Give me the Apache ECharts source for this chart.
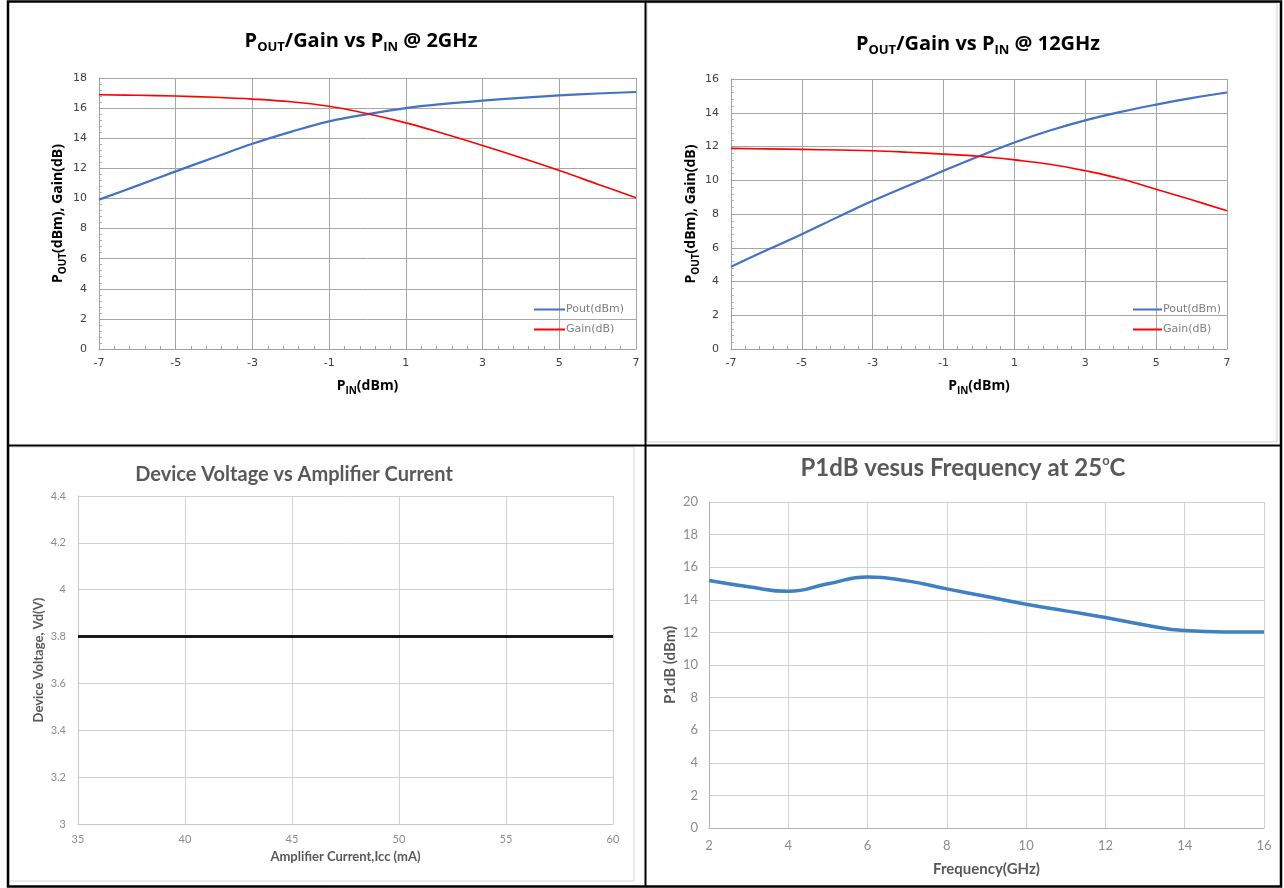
<!DOCTYPE html>
<html>
<head>
<meta charset="utf-8">
<title>Amplifier charts</title>
<script src="https://cdn.jsdelivr.net/npm/echarts@6/dist/echarts.min.js"></script>
<style>
    html, body { margin: 0; padding: 0; background: #fff; }
    #main { width: 1284px; height: 888px; }
</style>
</head>
<body>
<div id="main"></div>
<script>
// input power sweep (dBm), shared by the two top charts
var pinDbm = [-7, -6, -5, -4, -3, -2, -1, 0, 1, 2, 3, 4, 5, 6, 7];

// @ 2GHz
var pout2 = [9.92, 10.85, 11.8, 12.72, 13.63, 14.42, 15.12, 15.6, 16.0, 16.28, 16.5, 16.68, 16.84, 16.97, 17.07];
var gain2 = [16.89, 16.85, 16.8, 16.72, 16.6, 16.42, 16.12, 15.62, 15.02, 14.3, 13.52, 12.7, 11.85, 10.95, 10.05];

// @ 12GHz
var pout12 = [4.88, 5.85, 6.8, 7.8, 8.78, 9.68, 10.56, 11.42, 12.24, 12.95, 13.55, 14.05, 14.48, 14.87, 15.2];
var gain12 = [11.89, 11.86, 11.83, 11.79, 11.75, 11.66, 11.55, 11.42, 11.21, 10.95, 10.56, 10.09, 9.47, 8.84, 8.19];

// device voltage vs current
var iccMa = [35, 40, 45, 50, 55, 60];
var vdVolt = [3.8, 3.8, 3.8, 3.8, 3.8, 3.8];

// P1dB vs frequency
var freqGhz = [2, 3, 4, 5, 6, 7, 8, 9, 10, 11, 12, 13, 14, 15, 16];
var p1dB = [15.18, 14.8, 14.52, 14.98, 15.4, 15.16, 14.67, 14.2, 13.73, 13.32, 12.91, 12.46, 12.11, 12.03, 12.03];

var seriesNames = ["Pout(dBm)", "Gain(dB)"];

function pairs(xs, ys) {
    var out = [];
    for (var i = 0; i < xs.length; i++) {
        out.push([xs[i], ys[i]]);
    }
    return out;
}

var boldFont = "'Open Sans', Lato, sans-serif";
var calFont = "Lato, 'Open Sans', sans-serif";
var tickFont = "'DejaVu Sans', Verdana, sans-serif";

// subscript / superscript styles for rich text
var subRich = {
    t: { fontFamily: boldFont, fontWeight: "bold", fontSize: 20, lineHeight: 25, fill: "#000" },
    s: { fontFamily: boldFont, fontWeight: "bold", fontSize: 13, lineHeight: 13, verticalAlign: "bottom", fill: "#000" }
};
var nameRich = {
    t: { fontFamily: boldFont, fontWeight: "bold", fontSize: 14, lineHeight: 20, color: "#000" },
    s: { fontFamily: boldFont, fontWeight: "bold", fontSize: 10, lineHeight: 11, verticalAlign: "bottom", color: "#000" }
};

function topXAxis(gridIndex) {
    return {
        gridIndex: gridIndex,
        type: "value",
        min: -7,
        max: 7,
        interval: 2,
        name: "{t|P}{s|IN}{t|(dBm)}",
        nameLocation: "middle",
        nameGap: 27,
        nameTextStyle: { rich: nameRich },
        axisLine: { onZero: false, lineStyle: { color: "#a0a0a0", width: 1 } },
        axisTick: { show: true, inside: true, length: 3, lineStyle: { color: "#a0a0a0" } },
        minorTick: { show: true, splitNumber: 5, length: 3, lineStyle: { color: "#a0a0a0" } },
        axisLabel: { margin: 9, fontFamily: tickFont, fontSize: 11, color: "#404040" },
        splitLine: { show: true, lineStyle: { color: "#a6a6a6", width: 1 } }
    };
}

function topYAxis(gridIndex, max, gap) {
    return {
        gridIndex: gridIndex,
        type: "value",
        min: 0,
        max: max,
        interval: 2,
        name: "{t|P}{s|OUT}{t|(dBm), Gain(dB)}",
        nameLocation: "middle",
        nameGap: gap,
        nameTextStyle: { rich: nameRich },
        axisLine: { show: true, onZero: false, lineStyle: { color: "#a0a0a0", width: 1 } },
        axisTick: { show: true, inside: true, length: 3, lineStyle: { color: "#a0a0a0" } },
        minorTick: { show: true, splitNumber: 5, length: 3, lineStyle: { color: "#b0b0b0" } },
        axisLabel: { margin: 12, fontFamily: tickFont, fontSize: 11, color: "#404040" },
        splitLine: { show: true, lineStyle: { color: "#a6a6a6", width: 1 } }
    };
}

function topLegend(left, width) {
    return {
        orient: "vertical",
        left: left,
        top: 299,
        icon: "rect",
        itemWidth: width,
        itemHeight: 2,
        itemGap: 9,
        textStyle: { fontFamily: tickFont, fontSize: 11, color: "#7f7f7f", padding: [0, 0, 0, -4] },
        data: seriesNames
    };
}

var myChart = echarts.init(document.getElementById("main"));

var option = {
    backgroundColor: "#fff",
    animation: false,
    grid: [
        { left: 99, right: 648, top: 78, bottom: 539 },
        { left: 731, right: 57, top: 79, bottom: 539 },
        { left: 78, right: 671, top: 496, bottom: 64 },
        { left: 709, right: 20, top: 502, bottom: 60 }
    ],
    legend: [
        topLegend(529, 31),
        topLegend(1128, 29)
    ],
    xAxis: [
        topXAxis(0),
        topXAxis(1),
        {
            gridIndex: 2,
            type: "value",
            min: 35,
            max: 60,
            interval: 5,
            name: "Amplifier Current,Icc (mA)",
            nameLocation: "middle",
            nameGap: 26,
            nameTextStyle: { fontFamily: calFont, fontWeight: "bold", fontSize: 13, color: "#595959" },
            axisLine: { onZero: false, lineStyle: { color: "#c8c8c8" } },
            axisTick: { show: false },
            axisLabel: { margin: 10, fontFamily: calFont, fontSize: 11, color: "#8c8c8c" },
            splitLine: { show: true, lineStyle: { color: "#d0d0d0" } }
        },
        {
            gridIndex: 3,
            type: "value",
            min: 2,
            max: 16,
            interval: 2,
            name: "Frequency(GHz)",
            nameLocation: "middle",
            nameGap: 34,
            nameTextStyle: { fontFamily: calFont, fontWeight: "bold", fontSize: 15, color: "#595959" },
            axisLine: { onZero: false, lineStyle: { color: "#b0b0b0" } },
            axisTick: { show: false },
            axisLabel: { margin: 11, fontFamily: calFont, fontSize: 13, color: "#8c8c8c" },
            splitLine: { show: true, lineStyle: { color: "#d0d0d0" } }
        }
    ],
    yAxis: [
        topYAxis(0, 18, 31),
        topYAxis(1, 16, 29),
        {
            gridIndex: 2,
            type: "value",
            min: 3,
            max: 4.4,
            interval: 0.2,
            name: "Device Voltage, Vd(V)",
            nameLocation: "middle",
            nameGap: 33,
            nameTextStyle: { fontFamily: calFont, fontWeight: "bold", fontSize: 13, color: "#595959" },
            axisLine: { show: true, onZero: false, lineStyle: { color: "#c8c8c8" } },
            axisTick: { show: false },
            axisLabel: { margin: 12, fontFamily: calFont, fontSize: 11, color: "#8c8c8c" },
            splitLine: { show: true, lineStyle: { color: "#d0d0d0" } }
        },
        {
            gridIndex: 3,
            type: "value",
            min: 0,
            max: 20,
            interval: 2,
            name: "P1dB (dBm)",
            nameLocation: "middle",
            nameGap: 31,
            nameTextStyle: { fontFamily: calFont, fontWeight: "bold", fontSize: 15, color: "#595959" },
            axisLine: { show: true, onZero: false, lineStyle: { color: "#b0b0b0" } },
            axisTick: { show: false },
            axisLabel: { margin: 11, fontFamily: calFont, fontSize: 13, color: "#8c8c8c" },
            splitLine: { show: true, lineStyle: { color: "#d0d0d0" } }
        }
    ],
    series: [
        {
            name: "Pout(dBm)",
            type: "line",
            xAxisIndex: 0,
            yAxisIndex: 0,
            smooth: 0.4,
            symbol: "none",
            lineStyle: { color: "#4472C4", width: 2.2 },
            itemStyle: { color: "#4472C4" },
            data: pairs(pinDbm, pout2)
        },
        {
            name: "Gain(dB)",
            type: "line",
            xAxisIndex: 0,
            yAxisIndex: 0,
            smooth: 0.4,
            symbol: "none",
            lineStyle: { color: "#FF0000", width: 1.6 },
            itemStyle: { color: "#FF0000" },
            data: pairs(pinDbm, gain2)
        },
        {
            name: "Pout(dBm)",
            type: "line",
            xAxisIndex: 1,
            yAxisIndex: 1,
            smooth: 0.4,
            symbol: "none",
            lineStyle: { color: "#4472C4", width: 2.2 },
            itemStyle: { color: "#4472C4" },
            data: pairs(pinDbm, pout12)
        },
        {
            name: "Gain(dB)",
            type: "line",
            xAxisIndex: 1,
            yAxisIndex: 1,
            smooth: 0.4,
            symbol: "none",
            lineStyle: { color: "#FF0000", width: 1.6 },
            itemStyle: { color: "#FF0000" },
            data: pairs(pinDbm, gain12)
        },
        {
            name: "Vd",
            type: "line",
            xAxisIndex: 2,
            yAxisIndex: 2,
            symbol: "none",
            lineStyle: { color: "#1a1a1a", width: 3 },
            data: pairs(iccMa, vdVolt)
        },
        {
            name: "P1dB",
            type: "line",
            xAxisIndex: 3,
            yAxisIndex: 3,
            smooth: 0.5,
            symbol: "none",
            lineStyle: { color: "#3f7fc3", width: 3.5 },
            data: pairs(freqGhz, p1dB)
        }
    ],
    graphic: [
        // titles
        {
            type: "text", x: 361, y: 41,
            style: { text: "{t|P}{s|OUT}{t|/Gain vs P}{s|IN}{t| @ 2GHz}", rich: subRich, align: "center", verticalAlign: "middle" }
        },
        {
            type: "text", x: 978, y: 44,
            style: { text: "{t|P}{s|OUT}{t|/Gain vs P}{s|IN}{t| @ 12GHz}", rich: subRich, align: "center", verticalAlign: "middle" }
        },
        {
            type: "text", x: 294, y: 475,
            style: {
                text: "Device Voltage vs Amplifier Current",
                fontFamily: calFont, fontWeight: "bold", fontSize: 20, fill: "#595959",
                align: "center", verticalAlign: "middle"
            }
        },
        {
            type: "text", x: 963, y: 468,
            style: {
                text: "{t|P1dB vesus Frequency at 25}{u|o}{t|C}",
                rich: {
                    t: { fontFamily: calFont, fontWeight: "bold", fontSize: 24, lineHeight: 28, fill: "#595959" },
                    u: { fontFamily: calFont, fontWeight: "bold", fontSize: 13, lineHeight: 14, verticalAlign: "top", fill: "#595959" }
                },
                align: "center", verticalAlign: "middle"
            }
        },
        // light frames of the original chart boxes
        { type: "rect", shape: { x: 647, y: 3, width: 630, height: 439 }, style: { fill: null, stroke: "#d0d0d0", lineWidth: 1 }, silent: true },
        { type: "rect", shape: { x: 9, y: 447, width: 625, height: 434 }, style: { fill: null, stroke: "#d8d8d8", lineWidth: 1 }, silent: true },
        // panel frame and dividers
        { type: "rect", shape: { x: 8, y: 1.5, width: 1273, height: 885 }, style: { fill: null, stroke: "#000", lineWidth: 2.5 }, silent: true },
        { type: "line", shape: { x1: 645.5, y1: 1, x2: 645.5, y2: 887 }, style: { stroke: "#000", lineWidth: 2 }, silent: true },
        { type: "line", shape: { x1: 8, y1: 445.5, x2: 1281, y2: 445.5 }, style: { stroke: "#000", lineWidth: 2 }, silent: true }
    ]
};

myChart.setOption(option);
window.addEventListener("resize", function () {
    myChart.resize();
});
</script>
</body>
</html>
